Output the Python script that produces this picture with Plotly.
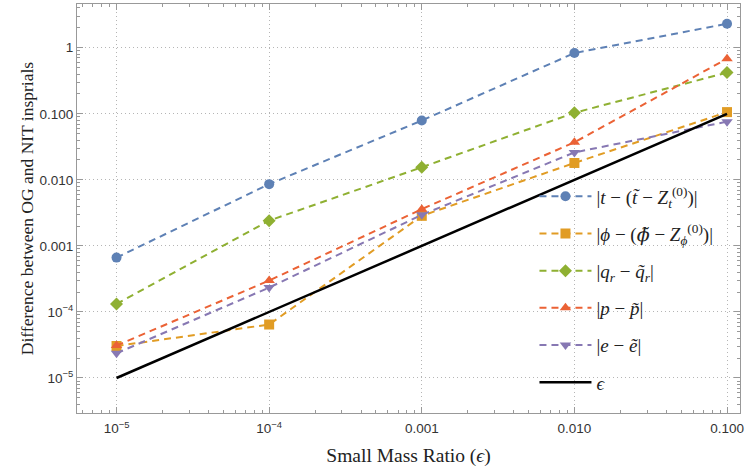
import numpy as np
import plotly.graph_objects as go

# small mass ratio values
eps = [1e-5, 1e-4, 1e-3, 1e-2, 1e-1]

# differences
diff_t = [6.65e-4, 8.6e-3, 0.079, 0.83, 2.31]
diff_phi = [3.05e-5, 6.45e-5, 2.85e-3, 0.018, 0.106]
diff_qr = [1.32e-4, 2.41e-3, 0.0155, 0.1035, 0.42]
diff_p = [3.1e-5, 2.99e-4, 3.6e-3, 0.037, 0.68]
diff_e = [2.37e-5, 2.34e-4, 2.95e-3, 0.026, 0.076]

x_tickvals = [1e-5, 1e-4, 1e-3, 1e-2, 1e-1]
x_ticktext = ["10<sup>−5</sup>", "10<sup>−4</sup>", "0.001", "0.010", "0.100"]
y_tickvals = [1e-5, 1e-4, 1e-3, 1e-2, 1e-1, 1]
y_ticktext = ["10<sup>−5</sup>", "10<sup>−4</sup>", "0.001", "0.010", "0.100", "1"]

phi_tilde = "<span style=\"font-family:'DejaVu Serif'\"><i>ϕ̃</i></span>"
series = [
    (diff_t, "|<i>t</i> − (<i>t̃</i> − <i>Z</i><sub><i>t</i></sub><sup>(0)</sup>)|", "#5E81B5", "circle"),
    (diff_phi, f"|<i>ϕ</i> − ({phi_tilde} − <i>Z</i><sub><i>ϕ</i></sub><sup>(0)</sup>)|", "#E19C24", "square"),
    (diff_qr, "|<i>q</i><sub><i>r</i></sub> − <i>q̃</i><sub><i>r</i></sub>|", "#8FB032", "diamond"),
    (diff_p, "|<i>p</i> − <i>p̃</i>|", "#EB6235", "triangle-up"),
    (diff_e, "|<i>e</i> − <i>ẽ</i>|", "#8778B3", "triangle-down"),
]

fig = go.Figure()
for i, (vals, label, color, sym) in enumerate(series):
    fig.add_trace(go.Scatter(
        x=eps, y=vals, name=label, legendgroup=f"g{i}",
        mode="lines+markers",
        line=dict(color=color, width=2, dash="7px,5px"),
        marker=dict(color=color, symbol=sym, size=10),
    ))

fig.add_trace(go.Scatter(
    x=eps, y=eps, name="<i>ϵ</i>", legendgroup="g5",
    mode="lines", line=dict(color="black", width=2.5),
))

serif = "Liberation Serif, serif"
sans = "Liberation Sans, sans-serif"

axis_common = dict(
    type="log", automargin=False,
    showline=True, linecolor="#999999", linewidth=1, mirror="allticks",
    ticks="inside", ticklen=6, tickcolor="#999999", tickwidth=1,
    minor=dict(ticks="inside", ticklen=3, tickcolor="#999999", dtick="D1", showgrid=False),
    showgrid=True, gridcolor="#b5b5b5", griddash="1px,3px", gridwidth=1,
    zeroline=False,
    tickfont=dict(family=sans, size=13.5, color="#333333"),
)

fig.update_layout(
    width=747, height=476,
    margin=dict(l=77, r=7, t=4, b=63),
    plot_bgcolor="white", paper_bgcolor="white",
    xaxis=dict(
        axis_common,
        range=[-5.259, -0.915],
        tickvals=x_tickvals, ticktext=x_ticktext,
        ticklabelstandoff=3,
        title=dict(text="Small Mass Ratio (<i>ϵ</i>)", font=dict(family=serif, size=19.5, color="#222222"), standoff=13),
    ),
    yaxis=dict(
        axis_common,
        range=[-5.53, 0.662],
        tickvals=y_tickvals, ticktext=y_ticktext,
        title=dict(text="Difference between OG and NIT insprials", font=dict(family=serif, size=17.5, color="#222222"), standoff=1),
    ),
    legend=dict(
        x=0.69, y=0.576, xanchor="left", yanchor="top",
        bgcolor="rgba(0,0,0,0)", borderwidth=0,
        font=dict(family=serif, size=19, color="#222222"),
        itemwidth=52, tracegroupgap=9.5,
    ),
)

# drop the default page margin so the figure sits at the window origin
fig.write_html("out.html", config={"displayModeBar": False},
               post_script="document.body.style.margin='0';")
